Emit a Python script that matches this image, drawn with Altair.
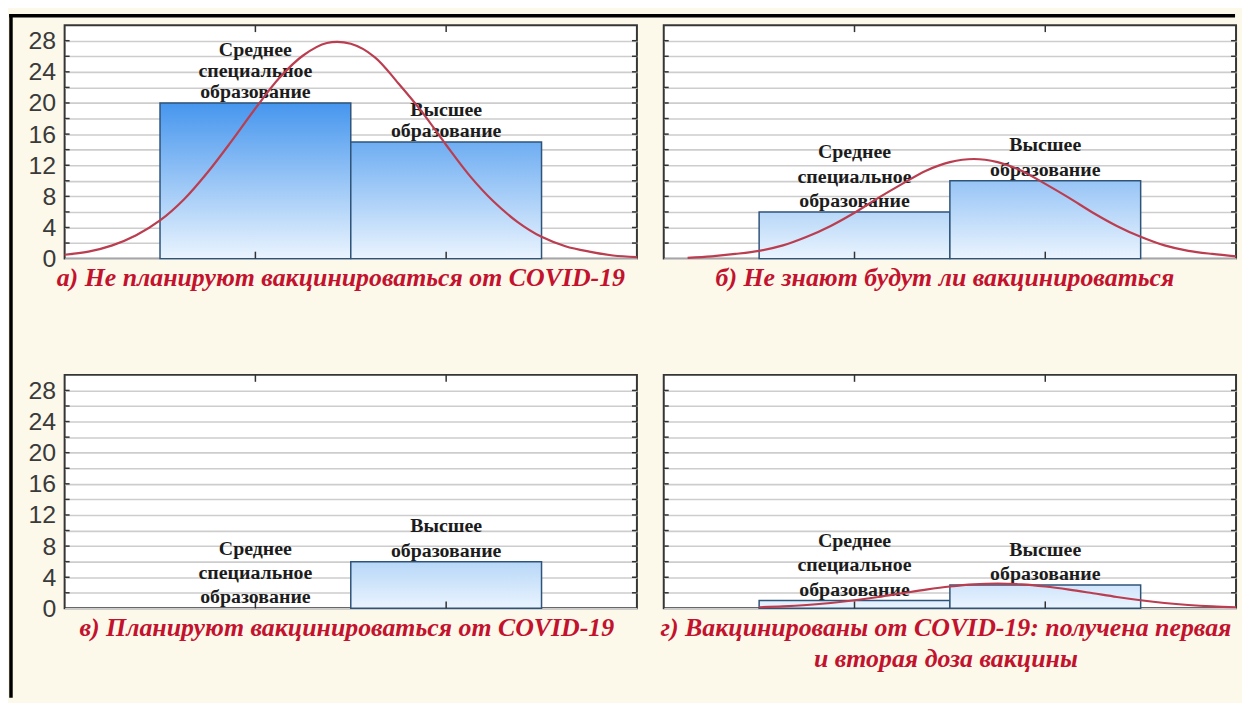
import altair as alt
import pandas as pd

# ---------------- data ----------------
categories = ["Среднее\nспециальное\nобразование", "Высшее\nобразование"]
bin_centers = [1, 2]
bin_half = 0.5

counts_a = [20, 15]
counts_b = [6, 10]
counts_v = [0, 6]
counts_g = [1, 3]

# fitted normal curves
curve_x_a = [0, 0.125, 0.25, 0.375, 0.5, 0.625, 0.75, 0.875, 1.0, 1.125, 1.25, 1.375, 1.5,
             1.625, 1.75, 1.875, 2.0, 2.125, 2.25, 2.375, 2.5, 2.625, 2.75, 2.875, 3.0]
curve_y_a = [0.5, 0.9, 1.7, 3.0, 4.9, 7.6, 11.1, 15.1, 19.3, 23.2, 26.1, 27.7, 27.6,
             25.9, 22.5, 18.8, 14.6, 10.6, 7.3, 4.7, 2.8, 1.6, 0.9, 0.4, 0.2]

curve_x_b = [0.125, 0.25, 0.375, 0.5, 0.625, 0.75, 0.875, 1.0, 1.125, 1.25, 1.375, 1.5,
             1.625, 1.75, 1.875, 2.0, 2.125, 2.25, 2.375, 2.5, 2.625, 2.75, 2.875, 3.0]
curve_y_b = [0.1, 0.3, 0.6, 1.0, 1.7, 2.8, 4.2, 5.9, 7.8, 9.6, 11.3, 12.4,
             12.8, 12.4, 11.3, 9.6, 7.8, 5.9, 4.2, 2.8, 1.7, 1.0, 0.6, 0.3]

curve_x_g = [0.5, 0.625, 0.75, 0.875, 1.0, 1.125, 1.25, 1.375, 1.5, 1.625, 1.75,
             1.875, 2.0, 2.125, 2.25, 2.375, 2.5, 2.625, 2.75, 2.875, 3.0]
curve_y_g = [0.14, 0.25, 0.43, 0.69, 1.04, 1.46, 1.94, 2.41, 2.81, 3.09, 3.19,
             3.09, 2.81, 2.41, 1.94, 1.46, 1.04, 0.69, 0.43, 0.25, 0.14]

y_tick_values = list(range(0, 30, 2))
inner_tick_values = list(range(2, 30, 2))

title_a = ["а) Не планируют вакцинироваться от COVID-19"]
title_b = ["б) Не знают будут ли вакцинироваться"]
title_v = ["в) Планируют вакцинироваться от COVID-19"]
title_g = ["г) Вакцинированы от COVID-19: получена первая", "и вторая доза вакцины"]

# ---------------- style ----------------
W, H = 576, 235
X_DOM = [0, 3]
Y_DOM = [0, 30]
BG = "#fcf9ea"
CURVE = "#ba3d50"
TITLE_RED = "#c3122e"
BAR_STROKE = "#2f5479"
BOTTOM_RGB = (232, 243, 253)
DEEP_RGB = (70, 150, 238)


def top_color(v):
    t = max(0.0, min(1.0, v / 20.0))
    r = [round(BOTTOM_RGB[k] + (DEEP_RGB[k] - BOTTOM_RGB[k]) * t) for k in range(3)]
    return "#%02x%02x%02x" % tuple(r)


def xs(field):
    return alt.X(field, type="quantitative", scale=alt.Scale(domain=X_DOM, nice=False, zero=False), axis=None)


def ys(field, labels):
    axis = alt.Axis(values=y_tick_values,
                    labelExpr="datum.value % 4 === 0 ? datum.label : ''",
                    labels=labels, grid=True, gridColor="#cdcdcd", gridWidth=1.6,
                    domain=False, ticks=False, title=None,
                    labelFont="Liberation Sans", labelFontSize=25, labelColor="#3a3a3a",
                    labelPadding=9)
    return alt.Y(field, type="quantitative", scale=alt.Scale(domain=Y_DOM, nice=False), axis=axis)


def panel(counts, cx, cy, title_lines, labels, title_dx, line_h, with_border=False):
    layers = []
    tick_df = pd.DataFrame({"v": inner_tick_values})
    # grid / axis carrier + inner ticks on left and right edges
    layers.append(alt.Chart(tick_df).mark_rule(color="#333333", strokeWidth=1.5).encode(
        y=ys("v", labels), x=alt.value(0), x2=alt.value(5)))
    layers.append(alt.Chart(tick_df).mark_rule(color="#333333", strokeWidth=1.5).encode(
        y=ys("v", labels), x=alt.value(W - 5), x2=alt.value(W)))
    # bars, one layer each for their own gradient
    for c, v in zip(bin_centers, counts):
        if v <= 0:
            continue
        bdf = pd.DataFrame({"left": [c - bin_half], "right": [c + bin_half], "count": [v], "base": [0]})
        grad = alt.LinearGradient(
            gradient="linear",
            stops=[alt.GradientStop(color=top_color(v), offset=0),
                   alt.GradientStop(color="#eaf4fe", offset=1)],
            x1=0, x2=0, y1=0, y2=1)
        layers.append(alt.Chart(bdf).mark_rect(fill=grad, stroke=BAR_STROKE, strokeWidth=1.5).encode(
            x=xs("left"), x2="right", y=ys("count", labels), y2="base"))
    # top/bottom inner ticks at the bin centres
    cdf = pd.DataFrame({"c": bin_centers})
    layers.append(alt.Chart(cdf).mark_rule(color="#333333", strokeWidth=1.5).encode(
        x=xs("c"), y=alt.value(0), y2=alt.value(7)))
    layers.append(alt.Chart(cdf).mark_rule(color="#333333", strokeWidth=1.5).encode(
        x=xs("c"), y=alt.value(H - 7), y2=alt.value(H)))
    # category labels, stacked upward from the bar top, one layer per line level
    rows = []
    for c, v, lab in zip(bin_centers, counts, categories):
        for k, line in enumerate(reversed(lab.split("\n"))):
            rows.append({"c": c, "count": v, "line": line, "k": k})
    ldf = pd.DataFrame(rows)
    for k in range(3):
        layers.append(alt.Chart(ldf).transform_filter(alt.datum.k == k).mark_text(
            baseline="bottom", align="center", font="Liberation Serif",
            fontWeight="bold", fontSize=20, color="#1c1c1c", dy=-1 - k * line_h).encode(
            x=xs("c"), y=ys("count", labels), text="line:N"))
    # fitted curve
    if cx:
        kdf = pd.DataFrame({"x": cx, "y": cy})
        layers.append(alt.Chart(kdf).mark_line(color=CURVE, strokeWidth=2.2, interpolate="catmull-rom").encode(
            x=xs("x"), y=ys("y", labels)))
    # panel caption below the plot
    tdf = pd.DataFrame({"t": title_lines, "k": list(range(len(title_lines)))})
    for k in range(len(title_lines)):
        layers.append(alt.Chart(tdf).transform_filter(alt.datum.k == k).mark_text(
            baseline="middle", align="center", font="Liberation Serif", fontSize=26,
            fontStyle="italic", fontWeight="bold", color=TITLE_RED).encode(
            x=alt.value(W / 2 + title_dx), y=alt.value(H + 20 + 31 * k), text="t:N"))
    if with_border:
        one = pd.DataFrame({"k": [0]})
        layers.append(alt.Chart(one).mark_rule(color="black", strokeWidth=3.5).encode(
            x=alt.value(-54), y=alt.value(-11.25), y2=alt.value(677)))
        layers.append(alt.Chart(one).mark_rule(color="black", strokeWidth=3.5).encode(
            y=alt.value(-9.5), x=alt.value(-55.75), x2=alt.value(1178)))
    return alt.layer(*layers).properties(width=W, height=H)


pa = panel(counts_a, curve_x_a, curve_y_a, title_a, True, -10, 21, with_border=True)
pb = panel(counts_b, curve_x_b, curve_y_b, title_b, False, -5, 24.5)
pv = panel(counts_v, None, None, title_v, True, -4, 24.5)
pg = panel(counts_g, curve_x_g, curve_y_g, title_g, False, -4, 24.5)

chart = alt.concat(pa, pb, pv, pg, columns=2, spacing={"row": 117, "column": 27}, bounds="flush").properties(
    padding={"left": -2, "top": 1, "right": 0, "bottom": 0}
).configure(background=BG).configure_view(stroke="#363636", strokeWidth=2, fill="white")

chart.save("out.html", embed_options={"renderer": "svg", "actions": False})
